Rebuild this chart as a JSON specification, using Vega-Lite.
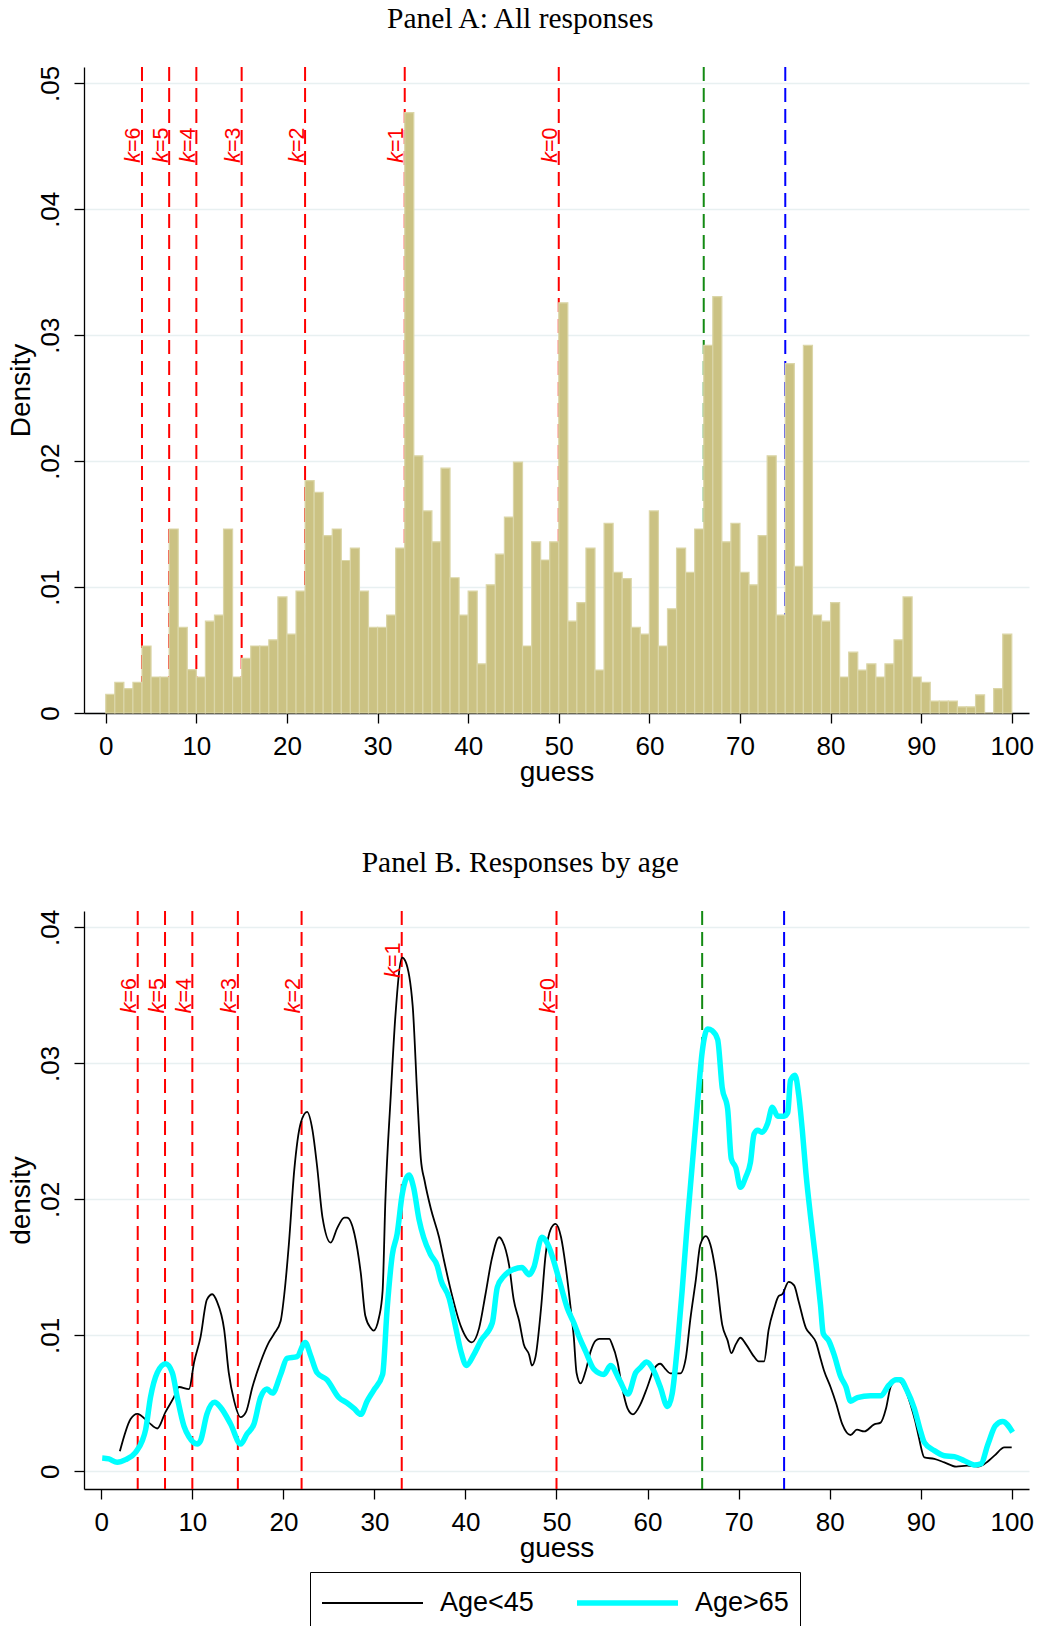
{
 "$schema": "https://vega.github.io/schema/vega-lite/v6.json",
 "background": "white",
 "padding": {"left": 7, "top": 3, "right": 5, "bottom": 0},
 "spacing": 61,
 "config": {
  "view": {"stroke": null},
  "font": "Liberation Sans",
  "axis": {"domainColor": "black", "domainWidth": 1.3, "tickColor": "black", "tickWidth": 1.3, "tickSize": 10,
   "labelFont": "Liberation Sans", "labelFontSize": 26, "labelColor": "black", "labelPadding": 10,
   "titleFont": "Liberation Sans", "titleFontSize": 28, "titleFontWeight": "normal", "titleColor": "black",
   "gridColor": "#e8f0f1", "gridWidth": 1.5},
  "title": {"font": "Liberation Serif", "fontSize": 29.5, "fontWeight": "normal", "color": "black", "anchor": "middle", "frame": "bounds", "offset": 31, "baseline": "alphabetic"}
 },
 "datasets": {
  "klines": [
   {"guess": 4, "k": 6, "rest": "=6"},
   {"guess": 7, "k": 5, "rest": "=5"},
   {"guess": 10, "k": 4, "rest": "=4"},
   {"guess": 15, "k": 3, "rest": "=3"},
   {"guess": 22, "k": 2, "rest": "=2"},
   {"guess": 33, "k": 1, "rest": "=1"},
   {"guess": 50, "k": 0, "rest": "=0"}
  ],
  "refs": [
   {"guess": 66, "kind": "green"},
   {"guess": 75, "kind": "blue"}
  ],
  "hist": [
   {"guess":0,"guess_end":1,"density":0.00148},{"guess":1,"guess_end":2,"density":0.00243},{"guess":2,"guess_end":3,"density":0.00194},{"guess":3,"guess_end":4,"density":0.00243},{"guess":4,"guess_end":5,"density":0.00532},
   {"guess":5,"guess_end":6,"density":0.00286},{"guess":6,"guess_end":7,"density":0.00286},{"guess":7,"guess_end":8,"density":0.01461},{"guess":8,"guess_end":9,"density":0.0068},{"guess":9,"guess_end":10,"density":0.00345},
   {"guess":10,"guess_end":11,"density":0.00286},{"guess":11,"guess_end":12,"density":0.00729},{"guess":12,"guess_end":13,"density":0.00778},{"guess":13,"guess_end":14,"density":0.01461},{"guess":14,"guess_end":15,"density":0.00286},
   {"guess":15,"guess_end":16,"density":0.00433},{"guess":16,"guess_end":17,"density":0.00532},{"guess":17,"guess_end":18,"density":0.00532},{"guess":18,"guess_end":19,"density":0.00581},{"guess":19,"guess_end":20,"density":0.00922},
   {"guess":20,"guess_end":21,"density":0.00627},{"guess":21,"guess_end":22,"density":0.00968},{"guess":22,"guess_end":23,"density":0.01845},{"guess":23,"guess_end":24,"density":0.01753},{"guess":24,"guess_end":25,"density":0.01408},
   {"guess":25,"guess_end":26,"density":0.01461},{"guess":26,"guess_end":27,"density":0.01211},{"guess":27,"guess_end":28,"density":0.0131},{"guess":28,"guess_end":29,"density":0.00968},{"guess":29,"guess_end":30,"density":0.0068},
   {"guess":30,"guess_end":31,"density":0.0068},{"guess":31,"guess_end":32,"density":0.00778},{"guess":32,"guess_end":33,"density":0.0131},{"guess":33,"guess_end":34,"density":0.04767},{"guess":34,"guess_end":35,"density":0.02042},
   {"guess":35,"guess_end":36,"density":0.01605},{"guess":36,"guess_end":37,"density":0.01359},{"guess":37,"guess_end":38,"density":0.01944},{"guess":38,"guess_end":39,"density":0.01074},{"guess":39,"guess_end":40,"density":0.00778},
   {"guess":40,"guess_end":41,"density":0.00968},{"guess":41,"guess_end":42,"density":0.0039},{"guess":42,"guess_end":43,"density":0.01018},{"guess":43,"guess_end":44,"density":0.01261},{"guess":44,"guess_end":45,"density":0.01556},
   {"guess":45,"guess_end":46,"density":0.01993},{"guess":46,"guess_end":47,"density":0.00532},{"guess":47,"guess_end":48,"density":0.01359},{"guess":48,"guess_end":49,"density":0.01215},{"guess":49,"guess_end":50,"density":0.01359},
   {"guess":50,"guess_end":51,"density":0.03257},{"guess":51,"guess_end":52,"density":0.00729},{"guess":52,"guess_end":53,"density":0.00877},{"guess":53,"guess_end":54,"density":0.0131},{"guess":54,"guess_end":55,"density":0.00341},
   {"guess":55,"guess_end":56,"density":0.01507},{"guess":56,"guess_end":57,"density":0.01116},{"guess":57,"guess_end":58,"density":0.01067},{"guess":58,"guess_end":59,"density":0.0068},{"guess":59,"guess_end":60,"density":0.00627},
   {"guess":60,"guess_end":61,"density":0.01605},{"guess":61,"guess_end":62,"density":0.00532},{"guess":62,"guess_end":63,"density":0.00827},{"guess":63,"guess_end":64,"density":0.0131},{"guess":64,"guess_end":65,"density":0.01116},
   {"guess":65,"guess_end":66,"density":0.01461},{"guess":66,"guess_end":67,"density":0.02919},{"guess":67,"guess_end":68,"density":0.03306},{"guess":68,"guess_end":69,"density":0.01359},{"guess":69,"guess_end":70,"density":0.01507},
   {"guess":70,"guess_end":71,"density":0.01116},{"guess":71,"guess_end":72,"density":0.01018},{"guess":72,"guess_end":73,"density":0.01408},{"guess":73,"guess_end":74,"density":0.02042},{"guess":74,"guess_end":75,"density":0.00778},
   {"guess":75,"guess_end":76,"density":0.02774},{"guess":76,"guess_end":77,"density":0.01165},{"guess":77,"guess_end":78,"density":0.02919},{"guess":78,"guess_end":79,"density":0.00778},{"guess":79,"guess_end":80,"density":0.00729},
   {"guess":80,"guess_end":81,"density":0.00877},{"guess":81,"guess_end":82,"density":0.00286},{"guess":82,"guess_end":83,"density":0.00483},{"guess":83,"guess_end":84,"density":0.00341},{"guess":84,"guess_end":85,"density":0.0039},
   {"guess":85,"guess_end":86,"density":0.00286},{"guess":86,"guess_end":87,"density":0.0039},{"guess":87,"guess_end":88,"density":0.00581},{"guess":88,"guess_end":89,"density":0.00922},{"guess":89,"guess_end":90,"density":0.00286},
   {"guess":90,"guess_end":91,"density":0.00243},{"guess":91,"guess_end":92,"density":0.00095},{"guess":92,"guess_end":93,"density":0.00095},{"guess":93,"guess_end":94,"density":0.00095},{"guess":94,"guess_end":95,"density":0.00049},
   {"guess":95,"guess_end":96,"density":0.00049},{"guess":96,"guess_end":97,"density":0.00144},{"guess":97,"guess_end":98,"density":0},{"guess":98,"guess_end":99,"density":0.00194},{"guess":99,"guess_end":100,"density":0.00627}
  ],
  "dens": [
   {"group":"Age<45","guess":2.04,"density":0.00147},{"group":"Age<45","guess":3.22,"density":0.00385},{"group":"Age<45","guess":3.95,"density":0.00423},{"group":"Age<45","guess":5.23,"density":0.00358},{"group":"Age<45","guess":6.15,"density":0.00315},
   {"group":"Age<45","guess":7.06,"density":0.00437},{"group":"Age<45","guess":7.98,"density":0.00545},{"group":"Age<45","guess":8.53,"density":0.0062},{"group":"Age<45","guess":9.63,"density":0.00605},{"group":"Age<45","guess":10.2,"density":0.00804},
   {"group":"Age<45","guess":10.9,"density":0.00987},{"group":"Age<45","guess":11.6,"density":0.01262},{"group":"Age<45","guess":12.2,"density":0.01302},{"group":"Age<45","guess":12.7,"density":0.01249},{"group":"Age<45","guess":13.5,"density":0.0104},
   {"group":"Age<45","guess":14.0,"density":0.00725},{"group":"Age<45","guess":14.6,"density":0.00516},{"group":"Age<45","guess":15.3,"density":0.00398},{"group":"Age<45","guess":15.9,"density":0.00437},{"group":"Age<45","guess":16.6,"density":0.0062},
   {"group":"Age<45","guess":17.5,"density":0.00804},{"group":"Age<45","guess":18.4,"density":0.00948},{"group":"Age<45","guess":19.0,"density":0.01013},{"group":"Age<45","guess":19.7,"density":0.01105},{"group":"Age<45","guess":20.1,"density":0.01302},
   {"group":"Age<45","guess":20.6,"density":0.01668},{"group":"Age<45","guess":21.2,"density":0.02218},{"group":"Age<45","guess":21.9,"density":0.02559},{"group":"Age<45","guess":22.6,"density":0.02643},{"group":"Age<45","guess":23.2,"density":0.02507},
   {"group":"Age<45","guess":23.7,"density":0.02245},{"group":"Age<45","guess":24.3,"density":0.01865},{"group":"Age<45","guess":25.2,"density":0.01681},{"group":"Age<45","guess":25.9,"density":0.01786},{"group":"Age<45","guess":26.7,"density":0.01865},
   {"group":"Age<45","guess":27.0,"density":0.01865},{"group":"Age<45","guess":27.8,"density":0.01747},{"group":"Age<45","guess":28.5,"density":0.01459},{"group":"Age<45","guess":29.0,"density":0.01144},{"group":"Age<45","guess":29.6,"density":0.01053},
   {"group":"Age<45","guess":29.9,"density":0.01034},{"group":"Age<45","guess":30.5,"density":0.01131},{"group":"Age<45","guess":30.9,"density":0.01328},{"group":"Age<45","guess":31.2,"density":0.01983},{"group":"Age<45","guess":31.8,"density":0.02769},
   {"group":"Age<45","guess":32.3,"density":0.03345},{"group":"Age<45","guess":33.05,"density":0.03777},{"group":"Age<45","guess":33.4,"density":0.03751},{"group":"Age<45","guess":34.2,"density":0.03424},{"group":"Age<45","guess":34.7,"density":0.02769},
   {"group":"Age<45","guess":35.1,"density":0.02297},{"group":"Age<45","guess":35.5,"density":0.0214},{"group":"Age<45","guess":36.2,"density":0.0193},{"group":"Age<45","guess":37.1,"density":0.01721},{"group":"Age<45","guess":37.6,"density":0.01564},
   {"group":"Age<45","guess":38.4,"density":0.01328},{"group":"Age<45","guess":39.5,"density":0.01066},{"group":"Age<45","guess":40.7,"density":0.00948},{"group":"Age<45","guess":41.5,"density":0.01053},{"group":"Age<45","guess":42.2,"density":0.01302},
   {"group":"Age<45","guess":42.9,"density":0.01564},{"group":"Age<45","guess":43.7,"density":0.01721},{"group":"Age<45","guess":44.05,"density":0.01695},{"group":"Age<45","guess":44.8,"density":0.01512},{"group":"Age<45","guess":45.3,"density":0.01262},
   {"group":"Age<45","guess":45.9,"density":0.01105},{"group":"Age<45","guess":46.4,"density":0.00935},{"group":"Age<45","guess":47.0,"density":0.00856},{"group":"Age<45","guess":47.3,"density":0.00778},{"group":"Age<45","guess":47.7,"density":0.00843},
   {"group":"Age<45","guess":48.3,"density":0.01197},{"group":"Age<45","guess":48.8,"density":0.0159},{"group":"Age<45","guess":49.4,"density":0.01786},{"group":"Age<45","guess":49.9,"density":0.0182},{"group":"Age<45","guess":50.5,"density":0.01721},
   {"group":"Age<45","guess":51.0,"density":0.01511},{"group":"Age<45","guess":51.56,"density":0.01197},{"group":"Age<45","guess":51.9,"density":0.00987},{"group":"Age<45","guess":52.2,"density":0.00725},{"group":"Age<45","guess":52.65,"density":0.00647},
   {"group":"Age<45","guess":53.2,"density":0.00738},{"group":"Age<45","guess":53.75,"density":0.00882},{"group":"Age<45","guess":54.3,"density":0.00961},{"group":"Age<45","guess":54.7,"density":0.00974},{"group":"Age<45","guess":55.8,"density":0.00974},
   {"group":"Age<45","guess":56.1,"density":0.00935},{"group":"Age<45","guess":56.7,"density":0.00804},{"group":"Age<45","guess":57.2,"density":0.0062},{"group":"Age<45","guess":57.8,"density":0.00463},{"group":"Age<45","guess":58.4,"density":0.00419},
   {"group":"Age<45","guess":59.2,"density":0.0049},{"group":"Age<45","guess":59.98,"density":0.0062},{"group":"Age<45","guess":60.7,"density":0.00751},{"group":"Age<45","guess":61.4,"density":0.00791},{"group":"Age<45","guess":61.97,"density":0.00751},
   {"group":"Age<45","guess":62.5,"density":0.0072},{"group":"Age<45","guess":63.6,"density":0.0072},{"group":"Age<45","guess":64.2,"density":0.0083},{"group":"Age<45","guess":64.7,"density":0.01118},{"group":"Age<45","guess":65.3,"density":0.01406},
   {"group":"Age<45","guess":65.8,"density":0.01668},{"group":"Age<45","guess":66.4,"density":0.01729},{"group":"Age<45","guess":66.9,"density":0.01668},{"group":"Age<45","guess":67.5,"density":0.01459},{"group":"Age<45","guess":68.2,"density":0.01079},
   {"group":"Age<45","guess":68.8,"density":0.00961},{"group":"Age<45","guess":69.2,"density":0.00869},{"group":"Age<45","guess":69.7,"density":0.00935},{"group":"Age<45","guess":70.2,"density":0.00982},{"group":"Age<45","guess":70.8,"density":0.00935},
   {"group":"Age<45","guess":71.7,"density":0.00843},{"group":"Age<45","guess":72.2,"density":0.00809},{"group":"Age<45","guess":72.8,"density":0.00809},{"group":"Age<45","guess":73.3,"density":0.0104},{"group":"Age<45","guess":73.9,"density":0.01197},
   {"group":"Age<45","guess":74.4,"density":0.01288},{"group":"Age<45","guess":74.8,"density":0.01302},{"group":"Age<45","guess":75.5,"density":0.01393},{"group":"Age<45","guess":76.1,"density":0.01367},{"group":"Age<45","guess":76.6,"density":0.01249},
   {"group":"Age<45","guess":77.4,"density":0.01053},{"group":"Age<45","guess":77.9,"density":0.01008},{"group":"Age<45","guess":78.5,"density":0.00948},{"group":"Age<45","guess":79.0,"density":0.0083},{"group":"Age<45","guess":79.4,"density":0.00738},
   {"group":"Age<45","guess":80.1,"density":0.0062},{"group":"Age<45","guess":80.7,"density":0.00503},{"group":"Age<45","guess":81.4,"density":0.00345},{"group":"Age<45","guess":82.3,"density":0.00267},{"group":"Age<45","guess":83.0,"density":0.00306},
   {"group":"Age<45","guess":83.8,"density":0.00293},{"group":"Age<45","guess":84.9,"density":0.00345},{"group":"Age<45","guess":85.6,"density":0.00358},{"group":"Age<45","guess":86.2,"density":0.00463},{"group":"Age<45","guess":86.7,"density":0.0062},
   {"group":"Age<45","guess":87.4,"density":0.00673},{"group":"Age<45","guess":88.35,"density":0.00594},{"group":"Age<45","guess":88.9,"density":0.0049},{"group":"Age<45","guess":89.4,"density":0.0037},{"group":"Age<45","guess":89.8,"density":0.0025},
   {"group":"Age<45","guess":90.4,"density":0.00103},{"group":"Age<45","guess":91.5,"density":0.00091},{"group":"Age<45","guess":92.6,"density":0.00066},{"group":"Age<45","guess":93.9,"density":0.00035},{"group":"Age<45","guess":95.1,"density":0.00042},
   {"group":"Age<45","guess":96.3,"density":0.00035},{"group":"Age<45","guess":97.0,"density":0.00054},{"group":"Age<45","guess":98.1,"density":0.00115},{"group":"Age<45","guess":99.2,"density":0.00176},{"group":"Age<45","guess":100,"density":0.00176},
   {"group":"Age>65","guess":0.1,"density":0.00098},{"group":"Age>65","guess":0.84,"density":0.00091},{"group":"Age>65","guess":1.75,"density":0.00066},{"group":"Age>65","guess":2.67,"density":0.00086},{"group":"Age>65","guess":3.77,"density":0.0014},
   {"group":"Age>65","guess":4.5,"density":0.00225},{"group":"Age>65","guess":4.87,"density":0.00306},{"group":"Age>65","guess":5.4,"density":0.00542},{"group":"Age>65","guess":6.15,"density":0.00725},{"group":"Age>65","guess":7.06,"density":0.00791},
   {"group":"Age>65","guess":7.8,"density":0.00725},{"group":"Age>65","guess":8.35,"density":0.00542},{"group":"Age>65","guess":9.08,"density":0.00332},{"group":"Age>65","guess":9.63,"density":0.00254},{"group":"Age>65","guess":10.54,"density":0.00201},
   {"group":"Age>65","guess":10.9,"density":0.00225},{"group":"Age>65","guess":11.6,"density":0.00421},{"group":"Age>65","guess":12.45,"density":0.00507},{"group":"Age>65","guess":13.1,"density":0.0047},{"group":"Age>65","guess":14.2,"density":0.00348},
   {"group":"Age>65","guess":15.3,"density":0.00201},{"group":"Age>65","guess":16.0,"density":0.00274},{"group":"Age>65","guess":16.77,"density":0.00348},{"group":"Age>65","guess":17.5,"density":0.00544},{"group":"Age>65","guess":18.2,"density":0.00605},
   {"group":"Age>65","guess":18.8,"density":0.00575},{"group":"Age>65","guess":19.7,"density":0.00712},{"group":"Age>65","guess":20.4,"density":0.0083},{"group":"Age>65","guess":21.5,"density":0.00843},{"group":"Age>65","guess":22.4,"density":0.00948},
   {"group":"Age>65","guess":22.97,"density":0.00856},{"group":"Age>65","guess":23.7,"density":0.00725},{"group":"Age>65","guess":24.8,"density":0.00673},{"group":"Age>65","guess":26.1,"density":0.00542},{"group":"Age>65","guess":27.0,"density":0.00503},
   {"group":"Age>65","guess":27.75,"density":0.00463},{"group":"Age>65","guess":28.5,"density":0.00419},{"group":"Age>65","guess":29.2,"density":0.00516},{"group":"Age>65","guess":29.9,"density":0.00594},{"group":"Age>65","guess":30.9,"density":0.00712},
   {"group":"Age>65","guess":31.4,"density":0.01197},{"group":"Age>65","guess":31.96,"density":0.0159},{"group":"Age>65","guess":32.5,"density":0.01747},{"group":"Age>65","guess":33.05,"density":0.02035},{"group":"Age>65","guess":33.8,"density":0.02179},
   {"group":"Age>65","guess":34.3,"density":0.02088},{"group":"Age>65","guess":34.9,"density":0.01852},{"group":"Age>65","guess":35.4,"density":0.01721},{"group":"Age>65","guess":36.2,"density":0.0159},{"group":"Age>65","guess":36.9,"density":0.01511},
   {"group":"Age>65","guess":37.3,"density":0.01406},{"group":"Age>65","guess":38.2,"density":0.01275},{"group":"Age>65","guess":38.9,"density":0.01066},{"group":"Age>65","guess":39.5,"density":0.00882},{"group":"Age>65","guess":40.1,"density":0.00778},
   {"group":"Age>65","guess":40.9,"density":0.00856},{"group":"Age>65","guess":41.7,"density":0.00961},{"group":"Age>65","guess":42.95,"density":0.01092},{"group":"Age>65","guess":43.5,"density":0.01354},{"group":"Age>65","guess":44.2,"density":0.01433},
   {"group":"Age>65","guess":45.3,"density":0.01485},{"group":"Age>65","guess":46.2,"density":0.01498},{"group":"Age>65","guess":47.0,"density":0.01446},{"group":"Age>65","guess":47.5,"density":0.01498},{"group":"Age>65","guess":48.4,"density":0.01721},
   {"group":"Age>65","guess":49.0,"density":0.01675},{"group":"Age>65","guess":49.36,"density":0.01616},{"group":"Age>65","guess":50.3,"density":0.01406},{"group":"Age>65","guess":51.2,"density":0.01197},{"group":"Age>65","guess":51.9,"density":0.01092},
   {"group":"Age>65","guess":52.5,"density":0.00987},{"group":"Age>65","guess":53.2,"density":0.00882},{"group":"Age>65","guess":54.1,"density":0.00751},{"group":"Age>65","guess":55.2,"density":0.00712},{"group":"Age>65","guess":55.95,"density":0.00778},
   {"group":"Age>65","guess":56.9,"density":0.00673},{"group":"Age>65","guess":57.85,"density":0.00568},{"group":"Age>65","guess":58.7,"density":0.00725},{"group":"Age>65","guess":59.25,"density":0.00764},{"group":"Age>65","guess":59.9,"density":0.00804},
   {"group":"Age>65","guess":60.7,"density":0.00738},{"group":"Age>65","guess":61.4,"density":0.0062},{"group":"Age>65","guess":62.2,"density":0.00476},{"group":"Age>65","guess":62.7,"density":0.00568},{"group":"Age>65","guess":63.3,"density":0.00935},
   {"group":"Age>65","guess":63.8,"density":0.01328},{"group":"Age>65","guess":64.4,"density":0.01852},{"group":"Age>65","guess":64.9,"density":0.02245},{"group":"Age>65","guess":65.5,"density":0.02716},{"group":"Age>65","guess":66.0,"density":0.03083},
   {"group":"Age>65","guess":66.6,"density":0.03253},{"group":"Age>65","guess":67.1,"density":0.0324},{"group":"Age>65","guess":67.7,"density":0.03175},{"group":"Age>65","guess":68.2,"density":0.02821},{"group":"Age>65","guess":68.8,"density":0.02664},
   {"group":"Age>65","guess":69.2,"density":0.02297},{"group":"Age>65","guess":69.7,"density":0.02232},{"group":"Age>65","guess":70.2,"density":0.02088},{"group":"Age>65","guess":70.8,"density":0.02166},{"group":"Age>65","guess":71.3,"density":0.02271},
   {"group":"Age>65","guess":71.7,"density":0.0248},{"group":"Age>65","guess":72.1,"density":0.02507},{"group":"Age>65","guess":72.6,"density":0.02494},{"group":"Age>65","guess":73.2,"density":0.02559},{"group":"Age>65","guess":73.7,"density":0.02677},
   {"group":"Age>65","guess":74.3,"density":0.02611},{"group":"Age>65","guess":75.0,"density":0.02611},{"group":"Age>65","guess":75.4,"density":0.02638},{"group":"Age>65","guess":75.7,"density":0.02874},{"group":"Age>65","guess":76.2,"density":0.02913},
   {"group":"Age>65","guess":76.6,"density":0.02769},{"group":"Age>65","guess":77.0,"density":0.02507},{"group":"Age>65","guess":77.4,"density":0.02192},{"group":"Age>65","guess":77.9,"density":0.01878},{"group":"Age>65","guess":78.5,"density":0.01537},
   {"group":"Age>65","guess":79.0,"density":0.01223},{"group":"Age>65","guess":79.3,"density":0.01013},{"group":"Age>65","guess":79.9,"density":0.00961},{"group":"Age>65","guess":80.5,"density":0.00856},{"group":"Age>65","guess":81.2,"density":0.00699},
   {"group":"Age>65","guess":81.8,"density":0.0062},{"group":"Age>65","guess":82.3,"density":0.00516},{"group":"Age>65","guess":83.05,"density":0.00542},{"group":"Age>65","guess":84.5,"density":0.00555},{"group":"Age>65","guess":85.6,"density":0.00555},
   {"group":"Age>65","guess":86.5,"density":0.00633},{"group":"Age>65","guess":87.3,"density":0.00673},{"group":"Age>65","guess":87.8,"density":0.00673},{"group":"Age>65","guess":88.5,"density":0.00594},{"group":"Age>65","guess":89.3,"density":0.00463},
   {"group":"Age>65","guess":90.0,"density":0.00293},{"group":"Age>65","guess":90.4,"density":0.00213},{"group":"Age>65","guess":91.5,"density":0.00152},{"group":"Age>65","guess":92.6,"density":0.00115},{"group":"Age>65","guess":93.7,"density":0.00108},
   {"group":"Age>65","guess":94.8,"density":0.00078},{"group":"Age>65","guess":95.9,"density":0.00047},{"group":"Age>65","guess":96.6,"density":0.00054},{"group":"Age>65","guess":97.4,"density":0.00201},{"group":"Age>65","guess":98.2,"density":0.00335},
   {"group":"Age>65","guess":99.0,"density":0.00367},{"group":"Age>65","guess":100.1,"density":0.00287}
  ]
 },
 "vconcat": [
  {
   "title": "Panel A: All responses",
   "width": 945,
   "height": 646,
   "layer": [
    {
     "data": {"name": "klines"},
     "mark": {"type": "rule", "color": "#ff0000", "strokeWidth": 2, "strokeDash": [14, 7]},
     "encoding": {
      "x": {"field": "guess", "type": "quantitative",
       "scale": {"domain": [-2.4, 101.9], "nice": false, "zero": false},
       "axis": {"values": [0,10,20,30,40,50,60,70,80,90,100], "title": "guess", "grid": false, "labelFlush": false, "titlePadding": -1}}
     }
    },
    {
     "data": {"name": "refs"},
     "transform": [{"filter": "datum.kind == 'green'"}],
     "mark": {"type": "rule", "color": "#138a13", "strokeWidth": 2, "strokeDash": [14, 7]},
     "encoding": {"x": {"field": "guess", "type": "quantitative"}}
    },
    {
     "data": {"name": "refs"},
     "transform": [{"filter": "datum.kind == 'blue'"}],
     "mark": {"type": "rule", "color": "#0000ff", "strokeWidth": 2, "strokeDash": [14, 7]},
     "encoding": {"x": {"field": "guess", "type": "quantitative"}}
    },
    {
     "data": {"name": "hist"},
     "mark": {"type": "rect", "fill": "#cbc283", "stroke": "#dbd6a8", "strokeWidth": 1.2},
     "encoding": {
      "x": {"field": "guess", "type": "quantitative"},
      "x2": {"field": "guess_end"},
      "y": {"field": "density", "type": "quantitative",
       "scale": {"domain": [0, 0.0513], "nice": false, "zero": false},
       "axis": {"title": "Density", "values": [0, 0.01, 0.02, 0.03, 0.04, 0.05],
        "labelExpr": "datum.value == 0 ? '0' : replace(format(datum.value, '.2f'), '0.', '.')",
        "labelAngle": 270, "labelAlign": "center", "labelBaseline": "bottom", "labelPadding": 11, "titlePadding": 2, "grid": true}},
      "y2": {"datum": 0}
     }
    },
    {
     "data": {"name": "klines"},
     "mark": {"type": "text", "text": "k", "font": "Liberation Sans", "fontStyle": "italic", "fontSize": 21.5, "color": "#ff0000", "angle": 270, "align": "left", "baseline": "alphabetic", "dy": -1.5},
     "encoding": {"x": {"field": "guess", "type": "quantitative"}, "y": {"datum": 0.0437}}
    },
    {
     "data": {"name": "klines"},
     "mark": {"type": "text", "font": "Liberation Sans", "fontSize": 21.5, "color": "#ff0000", "angle": 270, "align": "left", "baseline": "alphabetic", "dy": -1.5, "dx": 10.75},
     "encoding": {"x": {"field": "guess", "type": "quantitative"}, "y": {"datum": 0.0437}, "text": {"field": "rest"}}
    }
   ]
  },
  {
   "title": "Panel B. Responses by age",
   "width": 945,
   "height": 578,
   "layer": [
    {
     "data": {"name": "klines"},
     "mark": {"type": "rule", "color": "#ff0000", "strokeWidth": 2, "strokeDash": [14, 7]},
     "encoding": {
      "x": {"field": "guess", "type": "quantitative",
       "scale": {"domain": [-1.9, 101.9], "nice": false, "zero": false},
       "axis": {"values": [0,10,20,30,40,50,60,70,80,90,100], "title": "guess", "grid": false, "labelFlush": false, "titlePadding": -1}}
     }
    },
    {
     "data": {"name": "refs"},
     "transform": [{"filter": "datum.kind == 'green'"}],
     "mark": {"type": "rule", "color": "#138a13", "strokeWidth": 2, "strokeDash": [14, 7]},
     "encoding": {"x": {"field": "guess", "type": "quantitative"}}
    },
    {
     "data": {"name": "refs"},
     "transform": [{"filter": "datum.kind == 'blue'"}],
     "mark": {"type": "rule", "color": "#0000ff", "strokeWidth": 2, "strokeDash": [14, 7]},
     "encoding": {"x": {"field": "guess", "type": "quantitative"}}
    },
    {
     "data": {"name": "dens"},
     "transform": [{"filter": "datum.group == 'Age<45'"}],
     "mark": {"type": "line", "strokeWidth": 1.8, "interpolate": "monotone"},
     "encoding": {
      "x": {"field": "guess", "type": "quantitative"},
      "y": {"field": "density", "type": "quantitative",
       "scale": {"domain": [-0.0013, 0.0412], "nice": false, "zero": false},
       "axis": {"title": "density", "values": [0, 0.01, 0.02, 0.03, 0.04],
        "labelExpr": "datum.value == 0 ? '0' : replace(format(datum.value, '.2f'), '0.', '.')",
        "labelAngle": 270, "labelAlign": "center", "labelBaseline": "bottom", "labelPadding": 11, "titlePadding": 2, "grid": true}},
      "color": {"field": "group", "type": "nominal",
       "scale": {"domain": ["Age<45", "Age>65"], "range": ["#000000", "#00ffff"]},
       "legend": {"orient": "none", "legendX": 226, "legendY": 1505, "direction": "horizontal", "title": null,
        "symbolType": "stroke", "symbolSize": 10200, "symbolStrokeWidth": 2, "clipHeight": 40,
        "labelFontSize": 27, "labelFont": "Liberation Sans", "labelColor": "black", "labelLimit": 0,
        "strokeColor": "black", "fillColor": "white", "padding": 11, "columnPadding": 42, "labelOffset": 16,
        "encode": {"symbols": {"update": {"strokeWidth": {"signal": "(datum.value === 'Age>65' ? 5.5 : 1.8)"}}}}}}
     }
    },
    {
     "data": {"name": "dens"},
     "transform": [{"filter": "datum.group == 'Age>65'"}],
     "mark": {"type": "line", "strokeWidth": 5.5, "interpolate": "monotone"},
     "encoding": {
      "x": {"field": "guess", "type": "quantitative"},
      "y": {"field": "density", "type": "quantitative"},
      "color": {"field": "group", "type": "nominal"}
     }
    },
    {
     "data": {"name": "klines"},
     "transform": [{"filter": "datum.k != 1"}],
     "mark": {"type": "text", "text": "k", "font": "Liberation Sans", "fontStyle": "italic", "fontSize": 21.5, "color": "#ff0000", "angle": 270, "align": "left", "baseline": "alphabetic", "dy": -1.5},
     "encoding": {"x": {"field": "guess", "type": "quantitative"}, "y": {"datum": 0.03368}}
    },
    {
     "data": {"name": "klines"},
     "transform": [{"filter": "datum.k != 1"}],
     "mark": {"type": "text", "font": "Liberation Sans", "fontSize": 21.5, "color": "#ff0000", "angle": 270, "align": "left", "baseline": "alphabetic", "dy": -1.5, "dx": 10.75},
     "encoding": {"x": {"field": "guess", "type": "quantitative"}, "y": {"datum": 0.03368}, "text": {"field": "rest"}}
    },
    {
     "data": {"name": "klines"},
     "transform": [{"filter": "datum.k == 1"}],
     "mark": {"type": "text", "text": "k", "font": "Liberation Sans", "fontStyle": "italic", "fontSize": 21.5, "color": "#ff0000", "angle": 270, "align": "left", "baseline": "alphabetic", "dy": -1.5},
     "encoding": {"x": {"field": "guess", "type": "quantitative"}, "y": {"datum": 0.03629}}
    },
    {
     "data": {"name": "klines"},
     "transform": [{"filter": "datum.k == 1"}],
     "mark": {"type": "text", "font": "Liberation Sans", "fontSize": 21.5, "color": "#ff0000", "angle": 270, "align": "left", "baseline": "alphabetic", "dy": -1.5, "dx": 10.75},
     "encoding": {"x": {"field": "guess", "type": "quantitative"}, "y": {"datum": 0.03629}, "text": {"field": "rest"}}
    }
   ]
  }
 ]
}
